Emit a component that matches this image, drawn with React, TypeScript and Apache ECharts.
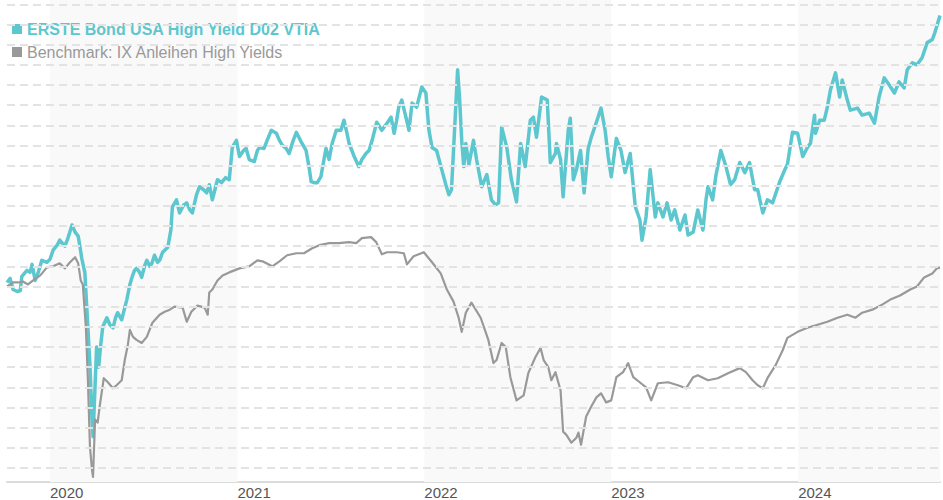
import React, { useEffect, useRef } from "react";
import * as echarts from "echarts";

const fundName = "ERSTE Bond USA High Yield D02 VTIA";
const benchName = "Benchmark: IX Anleihen High Yields";
const yearLabels = ["2020", "2021", "2022", "2023", "2024"];
const shadedYears = [2020, 2022, 2024];
const gridLevels = [82, 84, 86, 88, 90, 92, 94, 96, 98, 100, 102, 104, 106, 108, 110, 112, 114, 116, 118, 120, 122, 124, 126, 128];

// days relative to 2020-01-01
const startDay = -84;
const endDay = 1738;

const tealDays = [
  -84, -78, -72, -64, -58, -55, -45, -39, -35, -29, -23, -16, -6, 0, 6, 14, 19, 29, 35, 43, 49, 55, 58, 62, 68,
  72, 78, 82, 84, 88, 91, 95, 99, 103, 111, 117, 123, 128, 132, 140, 146, 150, 156, 160, 165, 169, 175, 179, 185, 189,
  195, 199, 204, 210, 214, 220, 230, 236, 239, 247, 253, 261, 267, 273, 278, 286, 292, 300, 306, 311, 317, 323, 327, 335, 343,
  350, 356, 364, 370, 378, 383, 389, 399, 405, 409, 418, 424, 432, 442, 448, 454, 461, 467, 475, 481, 491, 500, 506, 510, 516,
  522, 529, 535, 539, 545, 551, 559, 568, 574, 580, 584, 594, 603, 609, 617, 623, 629, 638, 648, 658, 666, 672, 677, 681, 687,
  695, 701, 707, 716, 722, 726, 734, 740, 746, 755, 765, 773, 779, 784, 788, 792, 796, 800, 804, 808, 812, 818, 827, 833, 843,
  853, 862, 870, 876, 882, 892, 901, 911, 919, 928, 938, 944, 950, 960, 971, 977, 987, 989, 997, 1002, 1012, 1016, 1022, 1028, 1036,
  1043, 1051, 1057, 1067, 1076, 1084, 1090, 1096, 1106, 1115, 1123, 1133, 1143, 1152, 1156, 1164, 1172, 1182, 1187, 1197, 1205, 1213, 1220, 1230, 1240,
  1246, 1256, 1265, 1275, 1281, 1285, 1294, 1300, 1310, 1320, 1329, 1337, 1347, 1357, 1366, 1376, 1382, 1392, 1401, 1411, 1425, 1435, 1440, 1450, 1460,
  1470, 1479, 1485, 1493, 1495, 1503, 1512, 1518, 1524, 1534, 1542, 1547, 1557, 1563, 1577, 1586, 1600, 1610, 1619, 1629, 1639, 1649, 1658, 1668, 1674,
  1684, 1693, 1703, 1713, 1723, 1728, 1738,
];
const tealValues = [
  100.4, 100.8, 99.7, 99.5, 99.6, 101.0, 101.6, 101.4, 102.2, 100.6,
  101.4, 102.6, 102.4, 102.7, 103.6, 104.1, 104.6, 104.0, 104.8, 106.1,
  105.4, 105.0, 104.1, 102.8, 101.4, 97.7, 92.2, 86.8, 85.1, 90.2,
  94.0, 92.0, 94.2, 96.0, 96.9, 96.2, 95.9, 96.9, 97.4, 96.7,
  97.9, 98.7, 100.2, 100.9, 101.6, 101.8, 101.4, 100.9, 102.1, 102.6,
  102.0, 102.3, 103.1, 102.4, 102.6, 103.4, 103.9, 105.6, 107.9, 108.6,
  107.3, 108.1, 108.3, 107.6, 107.3, 109.1, 109.9, 109.6, 109.3, 110.1,
  108.6, 109.8, 110.6, 110.3, 110.8, 110.6, 113.8, 114.5, 112.9, 113.5,
  113.7, 112.6, 112.4, 113.5, 113.8, 113.7, 114.5, 115.5, 115.2, 114.5,
  114.0, 113.7, 113.2, 114.5, 115.3, 114.3, 113.5, 111.8, 110.4, 110.3,
  110.3, 110.9, 112.6, 113.7, 112.6, 114.2, 115.5, 115.5, 116.5, 115.2,
  114.2, 112.9, 111.9, 112.6, 113.2, 113.5, 114.5, 116.3, 115.5, 116.2,
  116.8, 115.2, 116.5, 117.8, 118.5, 116.8, 115.5, 118.2, 117.8, 119.0,
  119.8, 119.2, 115.5, 113.8, 113.5, 111.6, 110.1, 109.1, 109.6, 113.5,
  117.5, 121.5, 118.5, 114.5, 111.9, 114.2, 112.1, 114.5, 112.6, 109.9,
  111.1, 108.6, 108.1, 108.3, 115.8, 113.8, 110.6, 108.4, 114.2, 111.9,
  116.5, 116.8, 114.8, 118.8, 118.5, 112.3, 113.2, 114.2, 112.6, 108.9,
  115.5, 116.7, 110.6, 111.6, 113.5, 109.3, 113.7, 114.8, 116.3, 117.7,
  115.5, 112.9, 110.9, 114.7, 113.5, 111.3, 113.2, 107.9, 106.6, 104.6,
  106.9, 111.6, 106.9, 108.3, 106.9, 108.3, 106.6, 107.6, 105.6, 107.1,
  105.1, 105.4, 107.6, 105.6, 108.6, 109.9, 108.6, 110.9, 113.5, 111.9,
  110.1, 110.6, 112.3, 111.3, 112.3, 109.6, 109.6, 107.3, 108.6, 108.3,
  110.4, 111.6, 112.1, 115.3, 115.2, 112.9, 113.8, 114.2, 117.0, 115.2,
  116.5, 116.5, 117.8, 119.5, 121.2, 118.8, 120.5, 118.5, 117.5, 117.7,
  117.0, 117.2, 116.2, 118.8, 120.7, 120.0, 119.2, 120.3, 119.7, 121.5,
  122.2, 122.0, 122.7, 124.2, 124.5, 125.2, 126.9,
];

const benchDays = [
  -84, -78, -72, -62, -53, -43, -33, -19, -6, 6, 19, 29, 39, 49, 55, 60, 64, 70, 74, 78,
  82, 84, 88, 93, 97, 105, 113, 123, 130, 140, 146, 152, 156, 162, 169, 179, 189, 200, 214, 224,
  234, 243, 259, 267, 276, 288, 302, 308, 311, 317, 327, 337, 350, 370, 389, 405, 415, 434, 448, 463,
  481, 496, 512, 526, 545, 564, 584, 598, 609, 627, 637, 648, 658, 677, 691, 697, 710, 730, 746, 763,
  775, 788, 798, 804, 812, 823, 841, 856, 866, 872, 882, 890, 899, 911, 925, 934, 948, 958, 964, 973,
  979, 987, 997, 1002, 1008, 1018, 1028, 1032, 1037, 1047, 1057, 1067, 1076, 1086, 1096, 1106, 1119, 1129, 1139, 1154,
  1164, 1174, 1187, 1207, 1226, 1242, 1256, 1265, 1285, 1304, 1324, 1347, 1359, 1372, 1382, 1392, 1401, 1417, 1431, 1440,
  1460, 1479, 1499, 1518, 1538, 1557, 1573, 1586, 1606, 1625, 1641, 1660, 1680, 1693, 1707, 1723, 1732, 1738,
];
const benchValues = [
  100.0, 100.2, 100.4, 100.4, 100.5, 100.2, 100.6, 101.1, 101.9, 102.0, 102.3, 101.8, 102.4, 102.9, 102.3, 100.6, 100.2, 96.0, 90.7, 84.1,
  81.8, 81.1, 86.8, 86.5, 88.1, 90.9, 90.5, 89.9, 90.2, 90.7, 92.7, 94.2, 95.7, 95.0, 94.7, 94.4, 95.0, 96.4, 97.2, 97.5,
  97.7, 98.0, 97.9, 96.5, 97.5, 98.1, 97.9, 97.2, 99.4, 99.7, 100.6, 101.1, 101.4, 101.8, 102.0, 102.6, 102.5, 102.0, 102.5, 103.1,
  103.3, 103.3, 103.8, 104.1, 104.3, 104.3, 104.4, 104.3, 104.8, 104.9, 104.4, 103.2, 103.4, 103.4, 103.3, 102.2, 103.0, 103.4, 102.4, 101.3,
  99.7, 98.5, 96.9, 95.5, 97.4, 98.4, 96.9, 94.7, 92.4, 92.7, 94.4, 94.0, 91.0, 88.7, 89.2, 91.4, 93.0, 93.9, 92.7, 92.0,
  90.7, 91.5, 89.7, 85.6, 85.3, 84.5, 85.0, 85.5, 84.3, 87.1, 88.1, 89.0, 89.4, 88.5, 88.7, 91.0, 91.5, 92.4, 91.0, 90.4,
  90.0, 88.7, 90.4, 90.5, 90.2, 89.9, 91.0, 91.2, 90.7, 90.9, 91.4, 91.9, 91.5, 90.7, 90.2, 89.9, 90.9, 92.2, 93.7, 94.9,
  95.5, 95.9, 96.2, 96.5, 96.9, 97.2, 96.9, 97.4, 97.7, 98.2, 98.7, 99.1, 99.7, 100.0, 100.9, 101.3, 101.8, 101.9,
];

const TEAL = "#5cc7ce";
const GRAY = "#999999";
const FONT = "'Liberation Sans', Arial, Helvetica, sans-serif";
const DAY = 86400000;
const BASE = Date.UTC(2020, 0, 1);
const toTs = (d: number) => BASE + d * DAY;
const yearTs = (y: number) => Date.UTC(y, 0, 1);

export default function App() {
  const ref = useRef<HTMLDivElement>(null);

  useEffect(() => {
    if (!ref.current) return;
    const chart = echarts.init(ref.current, undefined, { renderer: "svg" });
    const xMin = toTs(startDay);
    const xMax = toTs(endDay);

    const bands = shadedYears.map((y) => [
      { xAxis: yearTs(y) },
      { xAxis: Math.min(yearTs(y + 1), xMax) },
    ]);

    chart.setOption({
      animation: false,
      useUTC: true,
      grid: { left: 7, right: 0, top: 0, bottom: 18, containLabel: false },
      legend: {
        orient: "vertical",
        left: 7,
        top: 16,
        padding: 5,
        itemGap: 7,
        itemWidth: 10,
        itemHeight: 10,
        icon: "rect",
        selectedMode: false,
        textStyle: { fontSize: 16, fontFamily: FONT },
        data: [
          { name: fundName, textStyle: { color: TEAL, fontWeight: "bold", fontSize: 16, fontFamily: FONT } },
          { name: benchName, textStyle: { color: GRAY, fontWeight: "normal", fontSize: 16, fontFamily: FONT } },
        ],
      },
      xAxis: {
        type: "time",
        min: xMin,
        max: xMax,
        axisLine: { show: true, lineStyle: { color: "#dcdcdc", width: 2 } },
        axisTick: { show: false },
        splitLine: { show: false },
        axisLabel: {
          show: true,
          align: "left",
          margin: 3,
          color: "#555",
          fontSize: 15,
          fontFamily: FONT,
          hideOverlap: false,
          showMinLabel: true,
          showMaxLabel: true,
          formatter: (value: number) => {
            const d = new Date(value);
            const label = String(d.getUTCFullYear());
            if (d.getUTCMonth() === 0 && d.getUTCDate() === 1 && yearLabels.includes(label)) return label;
            return "";
          },
        },
      },
      yAxis: {
        type: "value",
        min: 80.6,
        max: 128.43,
        show: false,
        splitLine: { show: false },
      },
      series: [
        {
          name: "grid",
          type: "line",
          data: [[xMin, 100], [xMax, 100]],
          showSymbol: false,
          silent: true,
          z: 0,
          lineStyle: { width: 0, opacity: 0 },
          markArea: {
            silent: true,
            itemStyle: { color: "#f9f9f9" },
            data: bands,
          },
          markLine: {
            silent: true,
            symbol: ["none", "none"],
            label: { show: false },
            emphasis: { disabled: true },
            lineStyle: { type: [8, 5], color: "#e3e3e3", width: 2 },
            data: gridLevels.map((v) => ({ yAxis: v })),
          },
        },
        {
          name: fundName,
          type: "line",
          color: TEAL,
          showSymbol: false,
          z: 3,
          lineStyle: { width: 3.5, color: TEAL, join: "round" },
          data: tealDays.map((d, i) => [toTs(d), tealValues[i]]),
        },
        {
          name: benchName,
          type: "line",
          color: GRAY,
          showSymbol: false,
          z: 4,
          lineStyle: { width: 2.2, color: GRAY, join: "round" },
          data: benchDays.map((d, i) => [toTs(d), benchValues[i]]),
        },
      ],
    });
    return () => chart.dispose();
  }, []);

  return (
    <div
      ref={ref}
      style={{ position: "fixed", left: 0, top: 0, width: 943, height: 500, background: "#fff" }}
    />
  );
}
